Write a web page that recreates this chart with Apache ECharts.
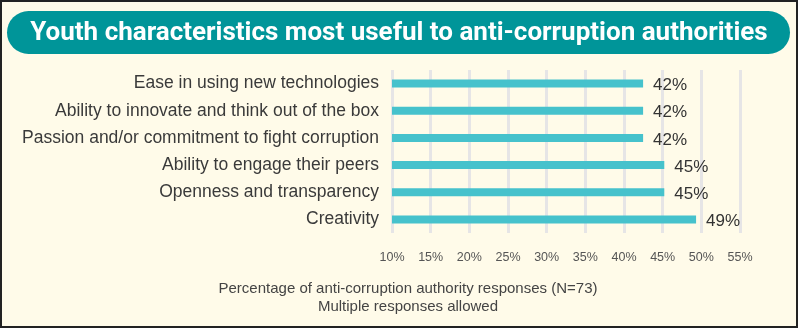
<!DOCTYPE html>
<html>
<head>
<meta charset="utf-8">
<script src="https://cdn.jsdelivr.net/npm/echarts@6/dist/echarts.min.js"></script>
<style>
  html, body { margin: 0; padding: 0; background: #FFFBE9; }
  #chart { width: 798px; height: 328px; }
</style>
</head>
<body>
<div id="chart"></div>
<script>
// Survey items, top to bottom
const categories = [
  'Ease in using new technologies',
  'Ability to innovate and think out of the box',
  'Passion and/or commitment to fight corruption',
  'Ability to engage their peers',
  'Openness and transparency',
  'Creativity'
];
// Share of authorities choosing each item (N=73), in percent
const shares = [42.47, 42.47, 42.47, 45.21, 45.21, 49.32];
// Axis range in percent
const axisMin = 10;
const axisMax = 55;
const axisStep = 5;

const titleText = 'Youth characteristics most useful to anti-corruption authorities';
const noteLines = [
  'Percentage of anti-corruption authority responses (N=73)',
  'Multiple responses allowed'
];

const sans = '"Liberation Sans", Arial, sans-serif';

const chart = echarts.init(document.getElementById('chart'));
chart.setOption({
  backgroundColor: '#FFFBE9',
  animation: false,
  grid: { left: 392, right: 58, top: 70, bottom: 95, containLabel: false },
  xAxis: {
    type: 'value',
    min: axisMin,
    max: axisMax,
    interval: axisStep,
    axisLine: { show: false },
    axisTick: { show: false },
    splitLine: { show: true, lineStyle: { color: '#E6E5E6', width: 3 } },
    axisLabel: {
      formatter: '{value}%',
      color: '#555',
      fontSize: 12.5,
      fontFamily: sans,
      margin: 18
    }
  },
  yAxis: {
    type: 'category',
    data: categories,
    inverse: true,
    axisLine: { show: false },
    axisTick: { show: false },
    splitLine: { show: false },
    axisLabel: {
      color: '#3a3a3a',
      fontSize: 17.5,
      fontFamily: sans,
      margin: 13
    }
  },
  series: [{
    type: 'bar',
    data: shares,
    barWidth: 8,
    itemStyle: { color: '#46C2CC' },
    label: {
      show: true,
      position: 'right',
      distance: 10,
      offset: [0, 2],
      color: '#333',
      fontSize: 17,
      fontFamily: sans,
      formatter: p => Math.round(p.value) + '%'
    }
  }],
  graphic: [
    {
      type: 'rect',
      shape: { x: 7, y: 11, width: 783, height: 43, r: 21.5 },
      style: { fill: '#009599' }
    },
    {
      type: 'text',
      x: 399, y: 33,
      style: {
        text: titleText,
        fill: '#ffffff',
        font: 'bold 26px Roboto, sans-serif',
        align: 'center',
        verticalAlign: 'middle'
      }
    },
    {
      type: 'text',
      x: 408, y: 289,
      style: {
        text: noteLines[0],
        fill: '#444',
        font: '15px ' + sans,
        align: 'center',
        verticalAlign: 'middle'
      }
    },
    {
      type: 'text',
      x: 408, y: 306.5,
      style: {
        text: noteLines[1],
        fill: '#444',
        font: '15px ' + sans,
        align: 'center',
        verticalAlign: 'middle'
      }
    },
    {
      type: 'rect',
      z: 100,
      shape: { x: 1, y: 1, width: 796, height: 326 },
      style: { fill: 'none', stroke: '#222', lineWidth: 2 }
    }
  ]
});
</script>
</body>
</html>
